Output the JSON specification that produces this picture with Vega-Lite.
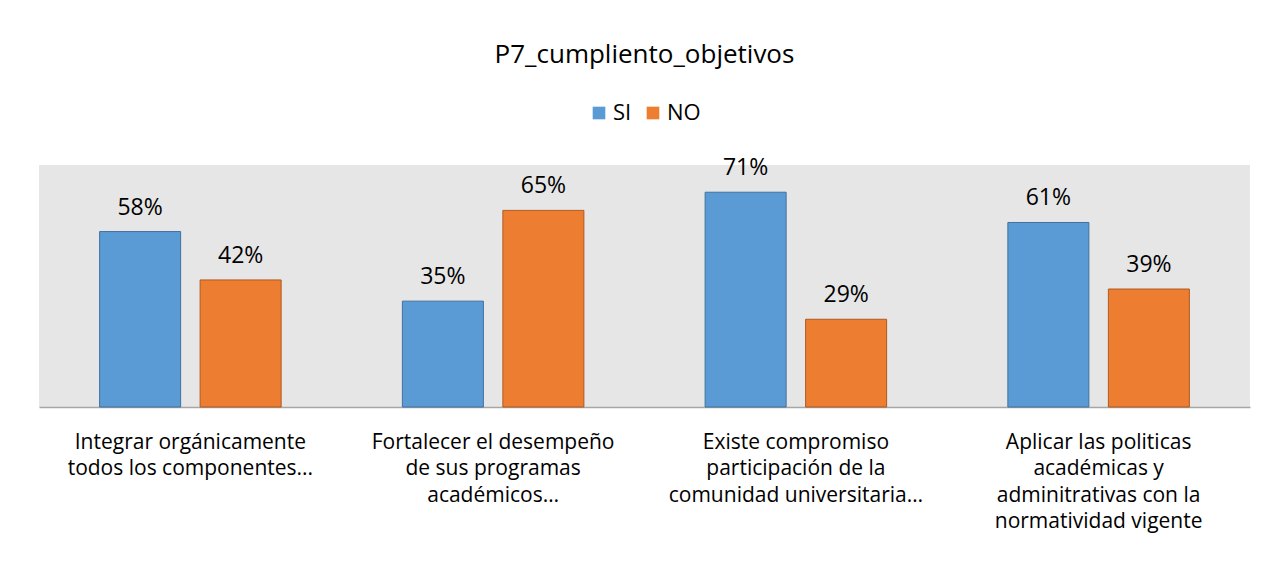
{
  "$schema": "https://vega.github.io/schema/vega-lite/v6.json",
  "autosize": {"type": "none"},
  "width": 1211,
  "height": 242,
  "padding": {"left": 39, "top": 165, "right": 18, "bottom": 156},
  "background": "white",
  "title": {
    "text": "P7_cumpliento_objetivos",
    "font": "Open Sans",
    "fontSize": 26,
    "fontWeight": "normal",
    "color": "#000000",
    "anchor": "middle",
    "offset": 34
  },
  "data": {
    "values": [
      {"categoria": "Integrar orgánicamente|todos los componentes...", "serie": "SI", "valor": 0.58},
      {"categoria": "Integrar orgánicamente|todos los componentes...", "serie": "NO", "valor": 0.42},
      {"categoria": "Fortalecer el desempeño|de sus programas|académicos…", "serie": "SI", "valor": 0.35},
      {"categoria": "Fortalecer el desempeño|de sus programas|académicos…", "serie": "NO", "valor": 0.65},
      {"categoria": "Existe compromiso|participación de la|comunidad universitaria…", "serie": "SI", "valor": 0.71},
      {"categoria": "Existe compromiso|participación de la|comunidad universitaria…", "serie": "NO", "valor": 0.29},
      {"categoria": "Aplicar las politicas|académicas y|adminitrativas con la|normatividad vigente", "serie": "SI", "valor": 0.61},
      {"categoria": "Aplicar las politicas|académicas y|adminitrativas con la|normatividad vigente", "serie": "NO", "valor": 0.39}
    ]
  },
  "encoding": {
    "x": {
      "field": "categoria",
      "type": "nominal",
      "sort": null,
      "scale": {"paddingInner": 0, "paddingOuter": 0},
      "axis": {
        "title": null,
        "labelAngle": 0,
        "labelExpr": "split(datum.label, '|')",
        "labelFont": "Open Sans",
        "labelFontSize": 21,
        "labelColor": "#000000",
        "labelLineHeight": 26.5,
        "labelPadding": 24,
        "labelLimit": 400,
        "ticks": false,
        "domainColor": "#A6A6A6",
        "domainWidth": 1.5
      }
    },
    "xOffset": {
      "field": "serie",
      "sort": ["SI", "NO"],
      "scale": {"paddingInner": 0.194, "paddingOuter": 0.603}
    },
    "y": {
      "field": "valor",
      "type": "quantitative",
      "scale": {"domain": [0, 0.8]},
      "axis": null
    }
  },
  "layer": [
    {
      "mark": {"type": "bar", "strokeWidth": 1},
      "encoding": {
        "color": {
          "field": "serie",
          "type": "nominal",
          "sort": ["SI", "NO"],
          "scale": {"domain": ["SI", "NO"], "range": ["#5B9BD5", "#ED7D31"]},
          "legend": {
            "title": null,
            "orient": "top",
            "direction": "horizontal",
            "offset": 41,
            "symbolType": "square",
            "symbolSize": 160,
            "symbolStrokeWidth": 0,
            "labelFont": "Open Sans",
            "labelFontSize": 22,
            "labelColor": "#000000",
            "columnPadding": 10,
            "labelOffset": 3
          }
        },
        "stroke": {
          "field": "serie",
          "type": "nominal",
          "scale": {"domain": ["SI", "NO"], "range": ["#41719C", "#AE5A21"]},
          "legend": null
        }
      }
    },
    {
      "mark": {"type": "text", "baseline": "bottom", "dy": -12, "font": "Open Sans", "fontSize": 23, "color": "#000000"},
      "encoding": {
        "text": {"field": "valor", "type": "quantitative", "format": ".0%"}
      }
    }
  ],
  "config": {
    "view": {"fill": "#E7E6E6", "stroke": null},
    "legend": {"layout": {"top": {"anchor": "middle"}}}
  }
}
